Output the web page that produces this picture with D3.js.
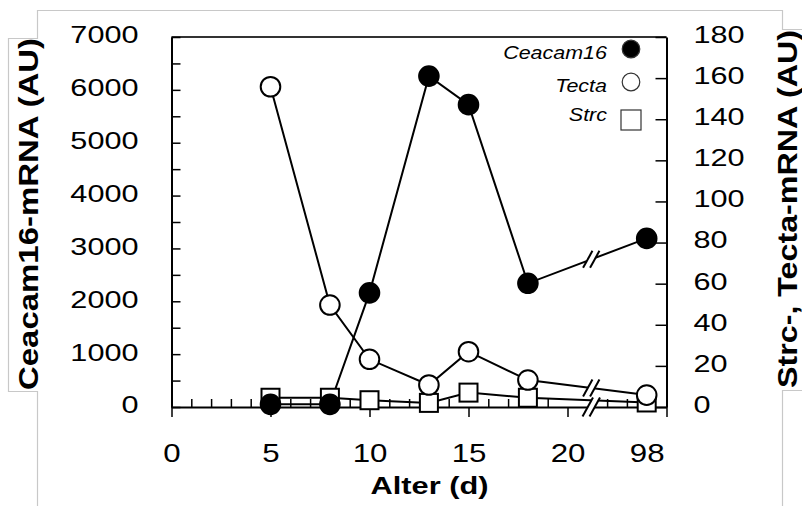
<!DOCTYPE html>
<html>
<head>
<meta charset="utf-8">
<script src="https://cdn.jsdelivr.net/npm/d3@7"></script>
<style>
  html, body { margin: 0; padding: 0; background: #fff; }
  svg { display: block; font-family: "Liberation Sans", Arial, sans-serif; }
</style>
</head>
<body>
<svg id="chart" width="802" height="506"></svg>
<script>
'use strict';

// values
var ages      = [5, 8, 10, 13, 15, 18, 98];
var ceacam16  = [50, 50, 2160, 6260, 5720, 2340, 3190];
var tecta     = [155.8, 49.6, 23.2, 10.7, 26.9, 13.1, 5.8];
var strc      = [4.5, 4.5, 3.3, 2.0, 7.0, 4.5, 2.2];

var xMajor    = [0, 5, 10, 15, 20, 98];
var leftTicks = d3.range(0, 7001, 1000);
var leftMinor = d3.range(500, 7000, 1000);
var rightTicks = d3.range(0, 181, 20);
var legendNames = ['Ceacam16', 'Tecta', 'Strc'];

// broken x axis: everything after day 20 is pulled back to slot 24
var lastSlot = 24;
function slot(age) { return age > 20 ? lastSlot : age; }

var plotL = 171.5, plotR = 666.5, plotT = 37, plotB = 407;
var svg = d3.select('#chart');

var x  = d3.scaleLinear().domain([0, 25]).range([plotL, plotR]);
var yL = d3.scaleLinear().domain([0, 7000]).range([plotB, plotT]);
var yR = d3.scaleLinear().domain([0, 180]).range([plotB, plotT]);

function stretch(sel, k) {
  sel.each(function () {
    var w = this.getComputedTextLength();
    d3.select(this).attr('textLength', w * k).attr('lengthAdjust', 'spacingAndGlyphs');
  });
}

// light grey frame left over from the original figure
svg.append('path')
  .attr('d', 'M37.5,506 V391.5 H8.5 V38.5 H37.5 V10.5 H782.5 V29.5 H802 M802,390.5 H782.5 V506')
  .attr('fill', 'none')
  .attr('stroke', '#c8c8c8')
  .attr('stroke-width', 1.2);

// top border of the plot box
svg.append('line')
  .attr('x1', plotL).attr('x2', plotR)
  .attr('y1', plotT).attr('y2', plotT)
  .attr('stroke', '#333').attr('stroke-width', 2);

// left axis
var gL = svg.append('g').attr('transform', 'translate(' + plotL + ',0)');
gL.call(d3.axisLeft(yL).tickValues(leftTicks).tickFormat(d3.format('d'))
  .tickSizeInner(-9).tickSizeOuter(0).tickPadding(33));
gL.append('g').call(d3.axisLeft(yL).tickValues(leftMinor).tickSizeInner(-9).tickSizeOuter(0).tickFormat(''))
  .select('.domain').remove();
gL.selectAll('text').attr('font-size', 24.5).attr('dy', '0.24em').attr('fill', '#000');

// right axis
var gR = svg.append('g').attr('transform', 'translate(' + plotR + ',0)');
gR.call(d3.axisRight(yR).tickValues(rightTicks).tickFormat(d3.format('d'))
  .tickSizeInner(-11).tickSizeOuter(0).tickPadding(27));
gR.selectAll('text').attr('font-size', 24.5).attr('dy', '0.22em').attr('fill', '#000');

// bottom axis, major ticks outward, minor ticks inward
var gB = svg.append('g').attr('transform', 'translate(0,' + plotB + ')');
var majorSlots = xMajor.map(slot).concat([25]);
gB.call(d3.axisBottom(x).tickValues(majorSlots).tickSizeInner(10).tickSizeOuter(0).tickPadding(27)
  .tickFormat(function (d) {
    var i = majorSlots.indexOf(d);
    return i < xMajor.length ? xMajor[i] : '';
  }));
gB.selectAll('.tick').filter(function (d) { return d === lastSlot; }).select('line').remove();
gB.append('g').call(d3.axisBottom(x)
    .tickValues(d3.range(1, 25).filter(function (d) { return d % 5 !== 0 && d !== 21; }))
    .tickSizeInner(-8).tickSizeOuter(0).tickFormat(''))
  .select('.domain').remove();
gB.selectAll('text').attr('font-size', 25).attr('fill', '#000');

svg.selectAll('.domain').attr('stroke-width', 2);
svg.selectAll('.tick line').attr('stroke-width', 1.5);
stretch(svg.selectAll('.tick text'), 1.25);

// axis titles
var tl = svg.append('text')
  .attr('transform', 'translate(38,214) rotate(-90)')
  .attr('text-anchor', 'middle')
  .attr('font-size', 28).attr('font-weight', 'bold')
  .text('Ceacam16-mRNA  (AU)');
tl.attr('textLength', 352).attr('lengthAdjust', 'spacingAndGlyphs');

var tr = svg.append('text')
  .attr('transform', 'translate(797,209) rotate(-90)')
  .attr('text-anchor', 'middle')
  .attr('font-size', 28).attr('font-weight', 'bold')
  .text('Strc-, Tecta-mRNA (AU)');
tr.attr('textLength', 358).attr('lengthAdjust', 'spacingAndGlyphs');

var tb = svg.append('text')
  .attr('x', 429.5).attr('y', 494)
  .attr('text-anchor', 'middle')
  .attr('font-size', 24).attr('font-weight', 'bold')
  .text('Alter (d)');
tb.attr('textLength', 118).attr('lengthAdjust', 'spacingAndGlyphs');

// series
function points(vals, y) {
  return ages.map(function (a, i) { return [x(slot(a)), y(vals[i])]; });
}
var series = [
  { name: 'Strc',     pts: points(strc, yR) },
  { name: 'Tecta',    pts: points(tecta, yR) },
  { name: 'Ceacam16', pts: points(ceacam16, yL) }
];

var line = d3.line();
svg.append('g').selectAll('path').data(series).enter().append('path')
  .attr('d', function (d) { return line(d.pts); })
  .attr('fill', 'none')
  .attr('stroke', '#000')
  .attr('stroke-width', 2);

// "//" break marks on the axis and on the lines
var breakSlot = 21.2;
function drawBreak(cx, cy, h) {
  var dx = h * 0.55, gap = 3.5;
  var g = svg.append('g');
  g.append('path')
    .attr('d', 'M' + (cx - gap - dx) + ',' + (cy + h) + ' L' + (cx - gap + dx) + ',' + (cy - h) +
               ' L' + (cx + gap + dx) + ',' + (cy - h) + ' L' + (cx + gap - dx) + ',' + (cy + h) + 'Z')
    .attr('fill', '#fff');
  [-gap, gap].forEach(function (o) {
    g.append('line')
      .attr('x1', cx + o - dx).attr('y1', cy + h)
      .attr('x2', cx + o + dx).attr('y2', cy - h)
      .attr('stroke', '#000').attr('stroke-width', 2);
  });
}
var bx = x(breakSlot);
series.slice(1).forEach(function (s) {
  var a = s.pts[s.pts.length - 2], b = s.pts[s.pts.length - 1];
  var t = (bx - a[0]) / (b[0] - a[0]);
  drawBreak(bx, a[1] + t * (b[1] - a[1]), 8.5);
});
drawBreak(bx, plotB, 9.5);

// markers
function marker(sel, name, r, sw) {
  if (name === 'Strc') {
    sel.append('rect')
      .attr('x', -r).attr('y', -r).attr('width', 2 * r).attr('height', 2 * r)
      .attr('fill', '#fff').attr('stroke', '#000').attr('stroke-width', sw);
  } else {
    sel.append('circle')
      .attr('r', r)
      .attr('fill', name === 'Ceacam16' ? '#000' : '#fff')
      .attr('stroke', '#000').attr('stroke-width', sw);
  }
}
series.forEach(function (s) {
  svg.append('g').selectAll('g').data(s.pts).enter().append('g')
    .attr('transform', function (d) { return 'translate(' + d[0] + ',' + d[1] + ')'; })
    .each(function () { marker(d3.select(this), s.name, s.name === 'Strc' ? 9 : 9.8, 2); });
});

// legend
var legendText = [59, 92, 121];
var legendMark = [49, 82, 120];
var lg = svg.append('g');
legendNames.forEach(function (n, i) {
  var t = lg.append('text')
    .attr('x', 607).attr('y', legendText[i])
    .attr('text-anchor', 'end')
    .attr('font-size', 19).attr('font-style', 'italic')
    .text(n);
  stretch(t, 1.13);
  var m = lg.append('g').attr('transform', 'translate(631,' + legendMark[i] + ')');
  marker(m, n, n === 'Strc' ? 10 : 8.8, 1.2);
});
lg.selectAll('rect, circle').attr('stroke', '#333');
</script>
</body>
</html>
